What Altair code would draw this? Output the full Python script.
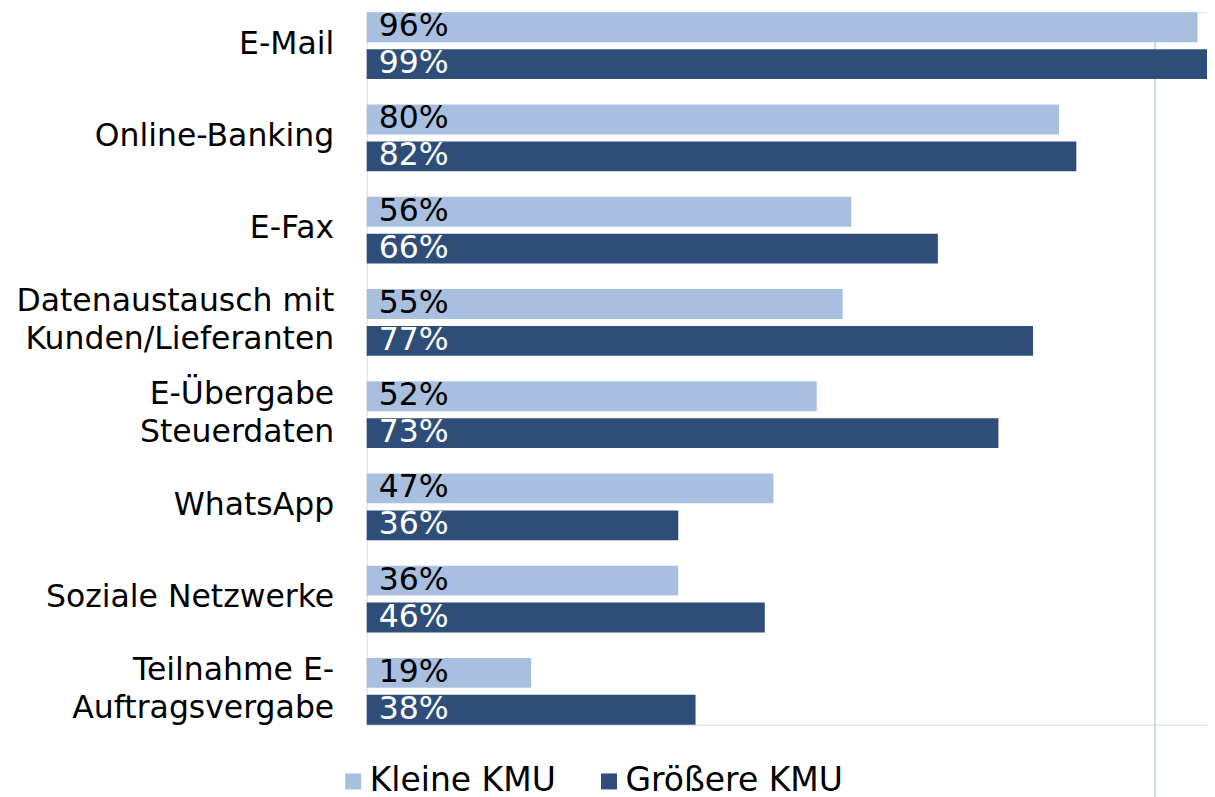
import altair as alt
import pandas as pd

categories = [
    "E-Mail",
    "Online-Banking",
    "E-Fax",
    "Datenaustausch mit\nKunden/Lieferanten",
    "E-Übergabe\nSteuerdaten",
    "WhatsApp",
    "Soziale Netzwerke",
    "Teilnahme E-\nAuftragsvergabe",
]
series = ["Kleine KMU", "Größere KMU"]
kleine = [96, 80, 56, 55, 52, 47, 36, 19]
groessere = [99, 82, 66, 77, 73, 36, 46, 38]
colors = ["#A9BFE0", "#2E4D78"]
border_pos = [91.1]

rows = []
for c, k, g in zip(categories, kleine, groessere):
    rows.append({"cat": c, "series": series[0], "value": k})
    rows.append({"cat": c, "series": series[1], "value": g})
df = pd.DataFrame(rows)
df_line = pd.DataFrame({"pos": border_pos})

FONT = "DejaVu Sans"

y_enc = alt.Y(
    "cat:N",
    sort=categories,
    scale=alt.Scale(paddingInner=0.276, paddingOuter=0),
    axis=alt.Axis(
        title=None,
        ticks=False,
        domain=False,
        grid=False,
        labelFontSize=31.5,
        labelFont=FONT,
        labelColor="#000000",
        labelPadding=33,
        labelLimit=400,
        labelLineHeight=38,
        labelOffset={
            "condition": {"test": "indexof(datum.value, '\\n') >= 0", "value": -20},
            "value": -1,
        },
        labelExpr="split(datum.label, '\\n')",
    ),
)
yoff = alt.YOffset("series:N", sort=series, scale=alt.Scale(paddingInner=0.19, paddingOuter=0))
x_scale = alt.Scale(domain=[0, 97.1], clamp=True, nice=False, zero=True)

vline = alt.Chart(df_line).mark_rule(
    color="#CCD9EE", strokeWidth=2, y=0, y2=788
).encode(
    x=alt.X("pos:Q", scale=x_scale, axis=None),
)

bars = alt.Chart(df).mark_bar().encode(
    x=alt.X("value:Q", scale=x_scale, axis=None),
    y=y_enc,
    yOffset=yoff,
    color=alt.Color(
        "series:N",
        sort=series,
        scale=alt.Scale(domain=series, range=colors),
        legend=alt.Legend(
            title=None,
            orient="none",
            direction="horizontal",
            legendX=-30,
            legendY=753,
            symbolType="square",
            symbolSize=256,
            symbolStrokeWidth=0,
            labelFontSize=33,
            labelFont=FONT,
            labelColor="#000000",
            labelOffset=0,
            columnPadding=36,
            labelLimit=400,
        ),
    ),
)

labels = alt.Chart(df).transform_calculate(
    lab="datum.value + '%'", zero="0"
).mark_text(
    align="left", baseline="middle", dx=12, dy=0, fontSize=31.5, font=FONT
).encode(
    x=alt.X("zero:Q", scale=x_scale, axis=None),
    y=y_enc,
    yOffset=yoff,
    text="lab:N",
    color=alt.condition(alt.datum.series == "Kleine KMU", alt.value("#000000"), alt.value("#FFFFFF")),
)

chart = (
    alt.layer(vline, bars, labels)
    .properties(
        width=841,
        height=713,
        padding={"left": 7, "top": 2, "right": 0, "bottom": 0},
    )
    .configure_view(stroke=None, strokeOpacity=0, strokeWidth=0)
    .configure_axis(grid=False, domain=False)
    .configure_axisX(disable=True)
    .configure(background="white")
)

chart.save("out.html", embed_options={"renderer": "svg", "actions": False})
